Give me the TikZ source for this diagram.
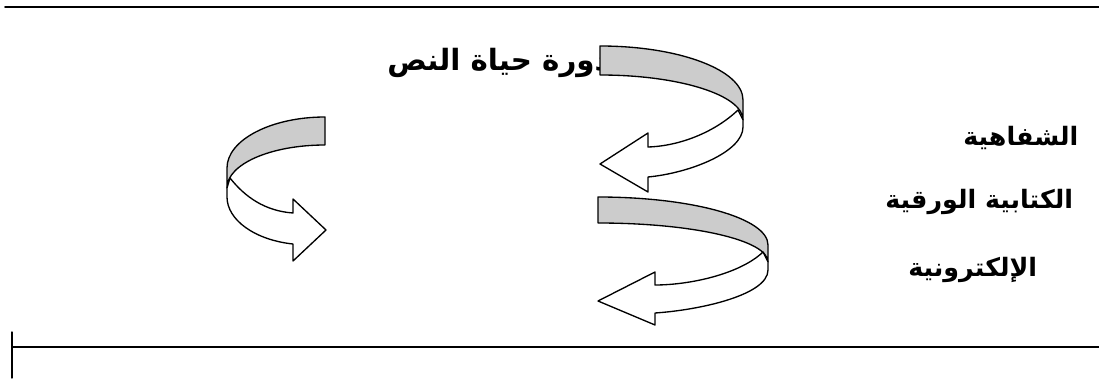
\documentclass[tikz,border=0pt]{standalone}
\usepackage{fontspec}
\newfontfamily\arabicfont[Script=Arabic]{DejaVu Sans}
\TeXXeTstate=1
\definecolor{bandgray}{RGB}{204,204,204}

\begin{document}
\begin{tikzpicture}[x=0.75pt,y=-0.75pt,line cap=round,line join=round,
    backface/.style={draw=black,fill=bandgray,line width=1pt},
    frontface/.style={draw=black,fill=white,line width=1pt},
    titlelabel/.style={font=\arabicfont\bfseries\fontsize{22}{26}\selectfont,inner sep=0pt},
    stagelabel/.style={font=\arabicfont\bfseries\fontsize{19}{23}\selectfont,inner sep=0pt}]
        \useasboundingbox (0,0) rectangle (1099,381);

        % frame lines
        \draw[line width=1.2pt] (5,7) -- (1099,7);
        \draw[line width=1pt] (12,347) -- (1099,347);
        \draw[line width=1pt] (12,332) -- (12,378);

        % labels
        \node[titlelabel,anchor=east] (cycle) at (610,63) {\beginR دورة حياة النص\endR};
        \node[stagelabel,anchor=west] (oral) at (963,138) {\beginR الشفاهية\endR};
        \node[stagelabel,anchor=west] (paper) at (885,202) {\beginR الكتابية الورقية\endR};
        \node[stagelabel,anchor=west] (digital) at (908,270) {\beginR الإلكترونية\endR};

        % upper right arrow
        \draw[backface] (600,46) .. controls (679,46) and (743,70) .. (743,100)
            -- (743,120) .. controls (743,95) and (679,75) .. (600,75) -- cycle;
        \draw[frontface] (738,110) .. controls (715,132) and (680,146) .. (648,147)
            -- (648,133) -- (600,164) -- (648,192) -- (648,177)
            .. controls (690,173) and (743,152) .. (743,127) -- (743,120) -- cycle;

        % lower right arrow
        \draw[backface] (598,197) .. controls (692,197) and (768,218) .. (768,245)
            -- (768,262) .. controls (768,240) and (692,223) .. (598,223) -- cycle;
        \draw[frontface] (763,252) .. controls (740,274) and (690,285) .. (655,285)
            -- (655,272) -- (598,301) -- (655,325) -- (655,313)
            .. controls (700,310) and (768,295) .. (768,270) -- (768,262) -- cycle;

        % left arrow
        \draw[backface] (325,117) .. controls (271,117) and (227,140) .. (227,168)
            -- (227,188) .. controls (227,164) and (271,145) .. (325,145) -- cycle;
        \draw[frontface] (230,178) .. controls (245,197) and (265,211) .. (293,213)
            -- (293,199) -- (326,230) -- (293,261) -- (293,244)
            .. controls (255,240) and (227,220) .. (227,197) -- (227,188) -- cycle;
    \end{tikzpicture}
\end{document}
